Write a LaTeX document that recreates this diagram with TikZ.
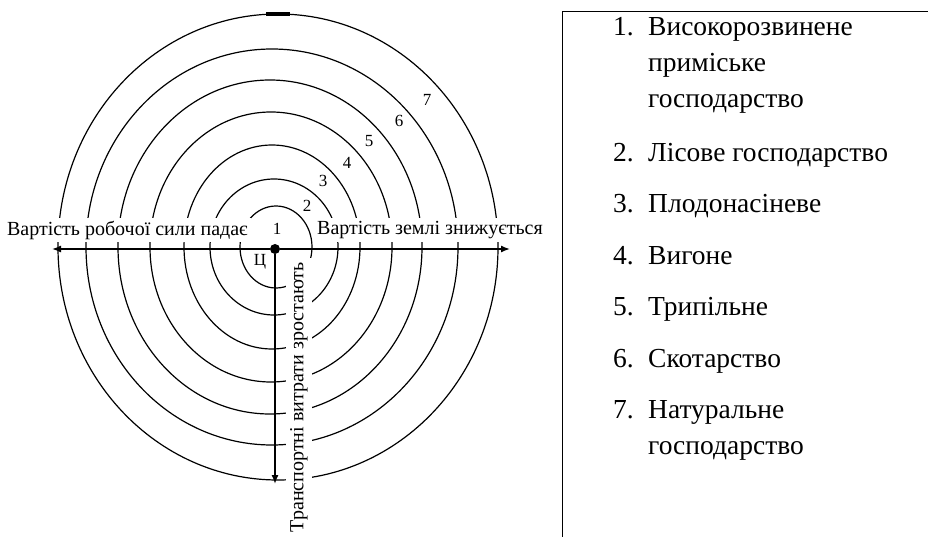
\documentclass[tikz,border=0pt]{standalone}
\usepackage{fontspec}
\setmainfont{Liberation Serif}
\usetikzlibrary{arrows.meta, positioning}

\begin{document}
\begin{tikzpicture}[x=1pt, y=-1pt, node distance=15pt,
  ring/.style={line width=1.2pt},
  axis/.style={line width=1.4pt, -{Latex[length=9pt, width=7pt]}},
  caption/.style={fill=white, inner sep=3pt, font=\fontsize{20}{22}\selectfont},
  ringno/.style={inner sep=1pt, font=\fontsize{17}{18}\selectfont},
  entry/.style={anchor=north west, align=left, inner sep=0pt, font=\fontsize{27.5}{36}\selectfont},
  idx/.style={anchor=north west, inner sep=0pt, font=\fontsize{27.5}{36}\selectfont}]
  \useasboundingbox (0,0) rectangle (928,537);
  % zones round the town
  \foreach \cx/\rx/\ry in {276/36/41, 274/64/68, 272/88/102, 271/121/135, 270/152/167, 272/186/198, 278/220/233}
    \draw[ring] (\cx,247) ellipse [x radius=\rx pt, y radius=\ry pt];
  \draw[line width=3.5pt] (266,14) -- (290,14);
  % axis captions (white, they cut the rings)
  \node[caption, anchor=east] (labour) at (251,230) {Вартість робочої сили падає};
  \node[caption, anchor=west] (land) at (314,230) {Вартість землі знижується};
  \node[caption, rotate=90, anchor=east, inner sep=4pt, font=\fontsize{20}{22}\selectfont] (freight) at (299,258) {Транспортні витрати зростають};
  % town and axes
  \node[circle, fill, inner sep=0pt, minimum size=10pt] (c) at (275,249) {};
  \coordinate (west) at (52,249);
  \coordinate (east) at (510,249);
  \coordinate (south) at (275,484);
  \draw[axis] (c) -- (west);
  \draw[axis] (c) -- (east);
  \draw[axis] (c) -- (south);
  \node[ringno] (town) at (260,262) {Ц};
  \node[ringno] (z1) at (277,229) {1};
  \node[ringno] (z2) at (307,206) {2};
  \node[ringno] (z3) at (323,181) {3};
  \node[ringno] (z4) at (347,163) {4};
  \node[ringno] (z5) at (369,141) {5};
  \node[ringno] (z6) at (399,121) {6};
  \node[ringno] (z7) at (427,100) {7};
  % legend
  \draw[line width=0.8pt] (562,537) -- (562,11) -- (928,11);
  \node[entry] (e1) at (648,9.8) {Високорозвинене\strut\\приміське\strut\\господарство\strut};
  \node[below=18pt of e1.south west, entry] (e2) {Лісове господарство\strut};
  \node[below=of e2.south west, entry] (e3) {Плодонасіневе\strut};
  \node[below=of e3.south west, entry] (e4) {Вигоне\strut};
  \node[below=of e4.south west, entry] (e5) {Трипільне\strut};
  \node[below=of e5.south west, entry] (e6) {Скотарство\strut};
  \node[below=of e6.south west, entry] (e7) {Натуральне\strut\\господарство\strut};
  \foreach \i in {1,...,7}
    \node[idx] (n\i) at ([xshift=-35pt]e\i.north west) {\i.\strut};
\end{tikzpicture}
\end{document}
